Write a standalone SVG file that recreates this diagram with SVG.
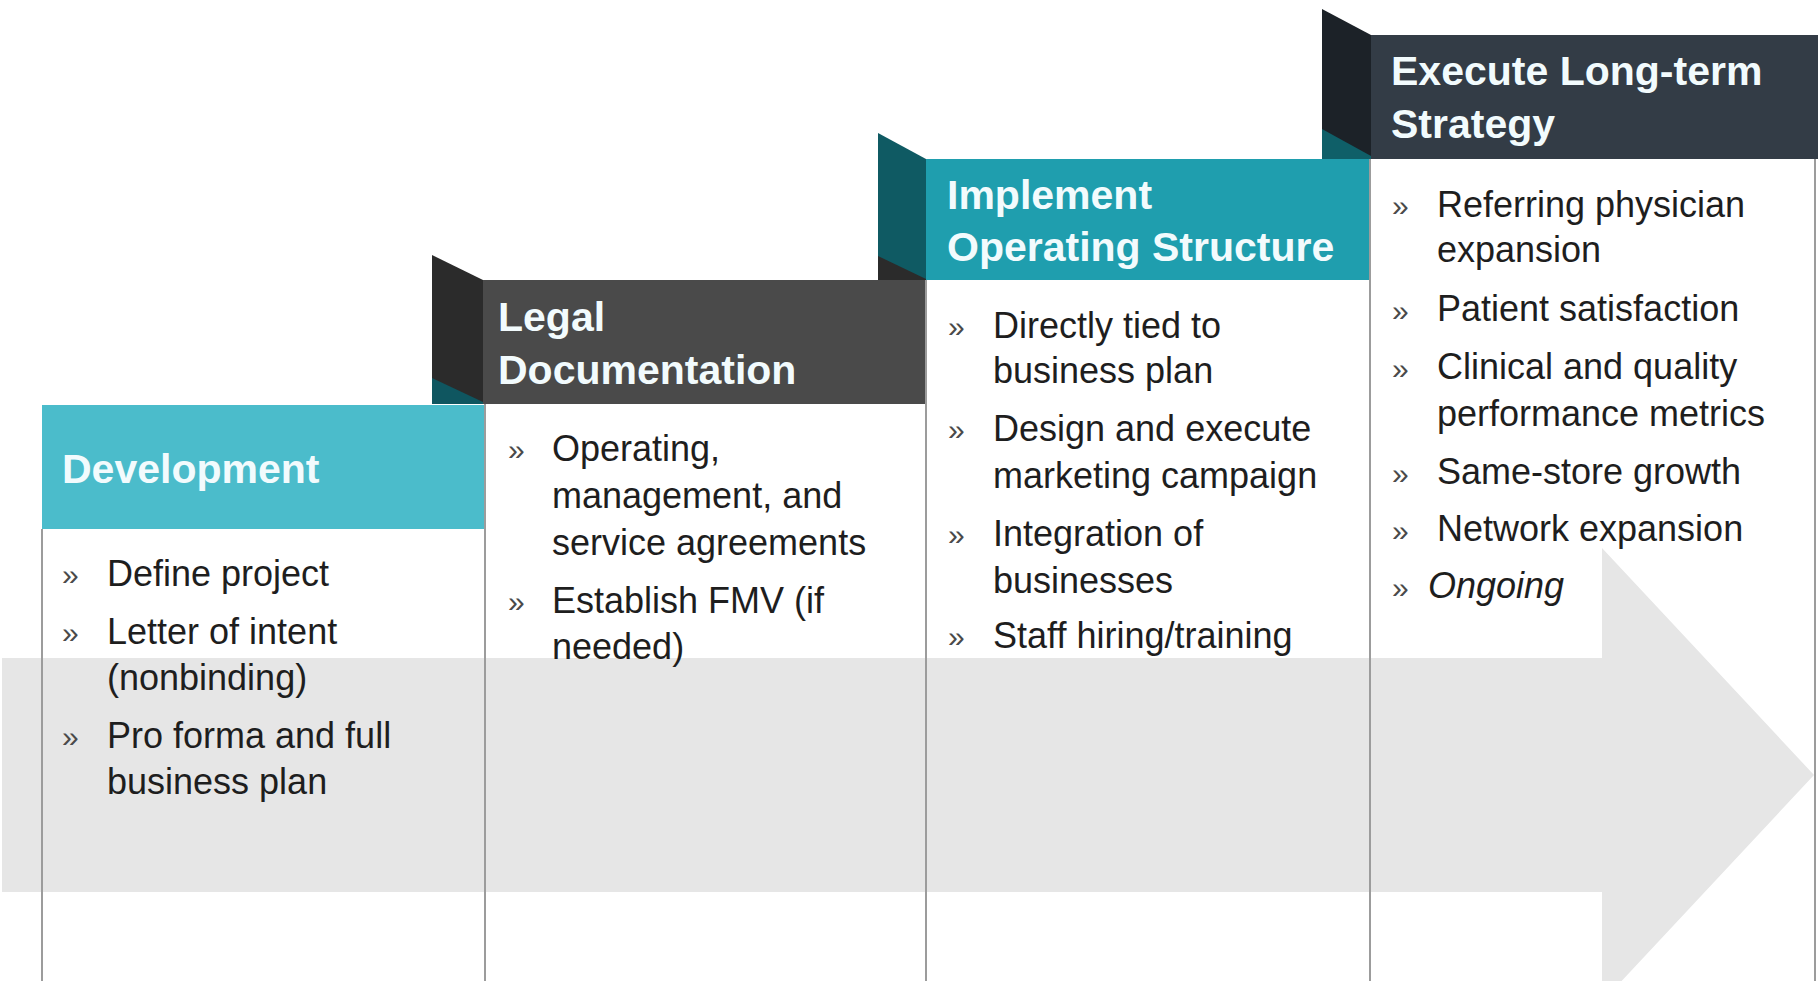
<svg xmlns="http://www.w3.org/2000/svg" width="1818" height="981" viewBox="0 0 1818 981">
  <style>
    .head { font-family: "Liberation Sans", Arial, sans-serif; font-weight: bold; font-size: 41px; fill: #f2fbfd; }
    .body { font-family: "Liberation Sans", Arial, sans-serif; font-size: 36px; fill: #1e1e1e; }
    .bul { font-family: "Liberation Sans", Arial, sans-serif; font-size: 30px; fill: #4a4a4a; }
    .col { stroke: #9c9c9c; stroke-width: 2; fill: none; }
    .it { font-style: italic; }
  </style>
  <rect x="0" y="0" width="1818" height="981" fill="#ffffff"/>

  <!-- progression arrow running behind all four stages -->
  <g id="connectors">
    <path d="M2 658 H1602 V548 L1814 775 L1602 1002 V892 H2 Z" fill="#e6e6e6"/>
  </g>

  <!-- stage 1 -->
  <g id="development">
    <line class="col" x1="42" y1="529" x2="42" y2="981"/>
    <line class="col" x1="485" y1="529" x2="485" y2="981"/>
    <rect x="42" y="405" width="443" height="124" fill="#4bbccb"/>
    <text class="head" x="62" y="483">Development</text>
    <g class="bul">
      <text x="62" y="585">»</text>
      <text x="62" y="643">»</text>
      <text x="62" y="747">»</text>
    </g>
    <text class="body">
      <tspan x="107" y="586">Define project</tspan>
      <tspan x="107" y="644">Letter of intent</tspan>
      <tspan x="107" y="690">(nonbinding)</tspan>
      <tspan x="107" y="748">Pro forma and full</tspan>
      <tspan x="107" y="794">business plan</tspan>
    </text>
  </g>

  <!-- stage 2 -->
  <g id="legal">
    <line class="col" x1="485" y1="404" x2="485" y2="981"/>
    <line class="col" x1="926" y1="404" x2="926" y2="981"/>
    <polygon points="432,255 483,280 483,404 432,404" fill="#2b2b2b"/>
    <polygon points="432,378 483,402 483,404 432,404" fill="#0f5660"/>
    <rect x="483" y="280" width="443" height="124" fill="#4a4a4a"/>
    <text class="head">
      <tspan x="498" y="331">Legal</tspan>
      <tspan x="498" y="384">Documentation</tspan>
    </text>
    <g class="bul">
      <text x="508" y="460">»</text>
      <text x="508" y="612">»</text>
    </g>
    <text class="body">
      <tspan x="552" y="461">Operating,</tspan>
      <tspan x="552" y="508">management, and</tspan>
      <tspan x="552" y="555">service agreements</tspan>
      <tspan x="552" y="613">Establish FMV (if</tspan>
      <tspan x="552" y="659">needed)</tspan>
    </text>
  </g>

  <!-- stage 3 -->
  <g id="implement">
    <line class="col" x1="926" y1="280" x2="926" y2="981"/>
    <line class="col" x1="1370" y1="280" x2="1370" y2="981"/>
    <polygon points="878,133 926,159 926,280 878,280" fill="#0f5a63"/>
    <polygon points="878,256 926,279 926,280 878,280" fill="#2b2b2b"/>
    <rect x="926" y="159" width="444" height="121" fill="#1f9eae"/>
    <text class="head">
      <tspan x="947" y="209">Implement</tspan>
      <tspan x="947" y="261">Operating Structure</tspan>
    </text>
    <g class="bul">
      <text x="948" y="337">»</text>
      <text x="948" y="440">»</text>
      <text x="948" y="545">»</text>
      <text x="948" y="647">»</text>
    </g>
    <text class="body">
      <tspan x="993" y="338">Directly tied to</tspan>
      <tspan x="993" y="383">business plan</tspan>
      <tspan x="993" y="441">Design and execute</tspan>
      <tspan x="993" y="488">marketing campaign</tspan>
      <tspan x="993" y="546">Integration of</tspan>
      <tspan x="993" y="593">businesses</tspan>
      <tspan x="993" y="648">Staff hiring/training</tspan>
    </text>
  </g>

  <!-- stage 4 -->
  <g id="execute">
    <line class="col" x1="1370" y1="159" x2="1370" y2="981"/>
    <line class="col" x1="1815" y1="159" x2="1815" y2="981"/>
    <polygon points="1322,9 1371,35 1371,159 1322,159" fill="#1c2228"/>
    <polygon points="1322,129 1371,156 1371,159 1322,159" fill="#0f5f68"/>
    <rect x="1371" y="35" width="447" height="124" fill="#333c46"/>
    <text class="head">
      <tspan x="1391" y="85">Execute Long-term</tspan>
      <tspan x="1391" y="138">Strategy</tspan>
    </text>
    <g class="bul">
      <text x="1392" y="216">»</text>
      <text x="1392" y="321">»</text>
      <text x="1392" y="379">»</text>
      <text x="1392" y="484">»</text>
      <text x="1392" y="541">»</text>
      <text x="1392" y="598">»</text>
    </g>
    <text class="body">
      <tspan x="1437" y="217">Referring physician</tspan>
      <tspan x="1437" y="262">expansion</tspan>
      <tspan x="1437" y="321">Patient satisfaction</tspan>
      <tspan x="1437" y="379">Clinical and quality</tspan>
      <tspan x="1437" y="426">performance metrics</tspan>
      <tspan x="1437" y="484">Same-store growth</tspan>
      <tspan x="1437" y="541">Network expansion</tspan>
      <tspan class="it" x="1428" y="598">Ongoing</tspan>
    </text>
  </g>
</svg>
